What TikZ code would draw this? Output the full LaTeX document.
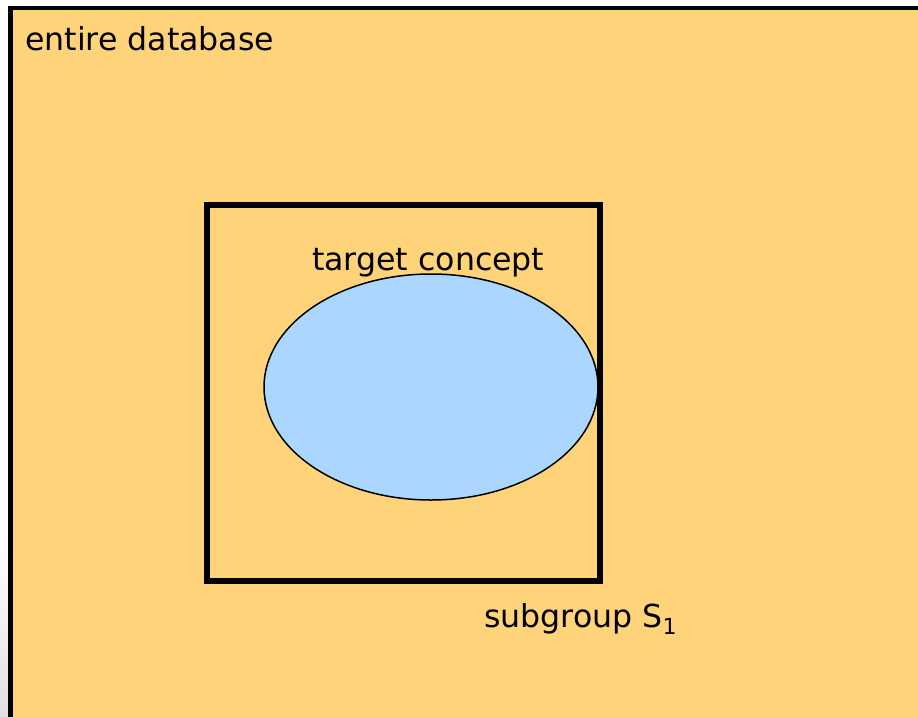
\documentclass[tikz,border=0pt]{standalone}
\usepackage{fontspec}
\setmainfont{DejaVu Sans}
\usetikzlibrary{shapes.geometric}
\definecolor{dbfill}{RGB}{255,211,122}
\definecolor{conceptfill}{RGB}{170,214,255}
\tikzset{
  label text/.style={anchor=base west, inner sep=0pt, font=\fontsize{31.6}{38}\selectfont},
}
\begin{document}
\begin{tikzpicture}[x=1pt,y=-1pt]
  \useasboundingbox (0,0) rectangle (918,716);
  % page background with a faint shadow at the lower left
  \path[fill=white] (0,0) rectangle (918,716);
  \shade[top color=white, bottom color=black!12] (0,540) rectangle (10,716);
  % whole database, cut off at the right and bottom
  \path[draw=black, line width=4.5pt, fill=dbfill] (10.7,8) rectangle (940,740);
  % subgroup S1
  \path[draw=black, line width=6pt] (207,204.5) rectangle (600.3,581);
  % target concept
  \node[ellipse, draw=black, line width=1.5pt, fill=conceptfill,
        minimum width=334pt, minimum height=226pt, inner sep=0pt] (concept) at (431,387) {};
  \node[label text] (db) at (25,50) {entire database};
  \node[label text] (tc) at (312,270) {target concept};
  \node[label text] (sg) at (484,627) {subgroup S\textsubscript{1}};
\end{tikzpicture}
\end{document}
